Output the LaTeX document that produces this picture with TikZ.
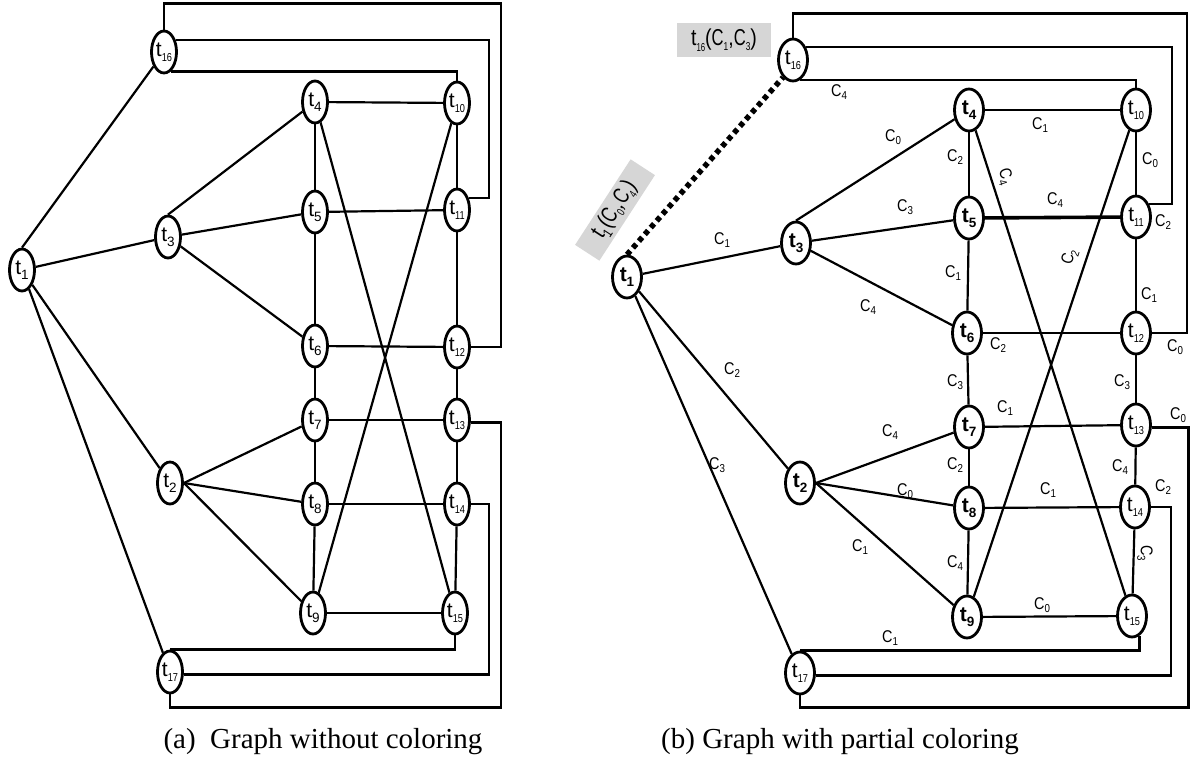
\documentclass[tikz,border=0pt]{standalone}
\usepackage{fontspec}
\usepackage{graphicx}
\setmainfont{Liberation Serif}
\newfontfamily\arialish{Liberation Sans}
\usetikzlibrary{shapes.geometric, calc}

\newcommand{\tv}[1]{t\raisebox{-0.45ex}{\fontsize{13.5}{13.5}\selectfont #1}}
\newcommand{\tw}[1]{t\raisebox{-0.45ex}{\fontsize{11.5}{11.5}\selectfont\scalebox{0.8}[1]{#1}}}
\newcommand{\cc}[1]{\scalebox{0.85}[1]{C}\raisebox{-0.4ex}{\fontsize{11.5}{11.5}\selectfont\scalebox{0.85}[1]{#1}}}

\begin{document}
\begin{tikzpicture}[x=1pt, y=-1pt,
    vert/.style={ellipse, draw, line width=2.8pt, fill=white, minimum width=25pt, minimum height=42pt, inner sep=0pt, font=\arialish\fontsize{21}{21}\selectfont},
    bvert/.style={vert, minimum width=29pt, font=\arialish\bfseries\fontsize{21}{21}\selectfont},
    wvert/.style={vert, minimum width=29pt},
    edge/.style={line width=2.2pt},
    wire/.style={line width=2.6pt},
    lbl/.style={font=\arialish\fontsize{17}{17}\selectfont, inner sep=1pt},
    tag/.style={fill=black!16, font=\arialish\fontsize{23}{23}\selectfont, inner sep=2pt},
    capt/.style={font=\fontsize{29}{32}\selectfont},
  ]
\useasboundingbox (0,0) rectangle (1197,765);

% (a) graph without coloring
\node[vert] (a1) at (22,270) {\tv{1}};
\node[vert] (a16) at (164,52) {\tw{16}};
\node[vert] (a3) at (168,237) {\tv{3}};
\node[vert] (a2) at (170,483) {\tv{2}};
\node[vert] (a17) at (170,672) {\tw{17}};
\node[vert] (a4) at (315,102) {\tv{4}};
\node[vert] (a5) at (315,212) {\tv{5}};
\node[vert] (a6) at (315,346) {\tv{6}};
\node[vert] (a7) at (315,420) {\tv{7}};
\node[vert] (a8) at (315,504) {\tv{8}};
\node[vert] (a9) at (313,613) {\tv{9}};
\node[vert] (a10) at (457,103) {\tw{10}};
\node[vert] (a11) at (457,210) {\tw{11}};
\node[vert] (a12) at (457,347) {\tw{12}};
\node[vert] (a13) at (457,420) {\tw{13}};
\node[vert] (a14) at (457,504) {\tw{14}};
\node[vert] (a15) at (455,613) {\tw{15}};

\foreach \u/\v in {1.north/16, 1/3, 1/2, 1/17, 3.north/4, 3/5, 3/6, 2.east/7, 2.east/8, 2.east/9,
    4/5, 5/6, 6/7, 7/8, 8/9, 10/11, 11/12, 12/13, 13/14, 14/15,
    4/10, 5/11, 6/12, 7/13, 8/14, 9/15, 4/15, 9/10}
  \draw[edge] (a\u) -- (a\v);

\draw[wire] (a16.north) -- ++(0,-26) -| ($(a12.east)+(30,0)$) -- (a12.east);
\draw[wire] (a16.45) -| ($(a11.45)+(20,0)$) -- (a11.45);
\draw[wire] (a16.-70) -| (a10.north);
\draw[wire] (a15.south) |- (a17.north);
\draw[wire] (a14.east) -- ++(18,0) |- (a17.-10);
\draw[wire] (a13.-10) -- ++(30,0) |- ($(a17.south)+(0,13)$) -- (a17.south);

% (b) graph with partial coloring
\node[bvert] (b1) at (627,277) {\tv{1}};
\node[wvert] (b16) at (793,60) {\tw{16}};
\node[bvert] (b3) at (796,243) {\tv{3}};
\node[bvert] (b2) at (800,483) {\tv{2}};
\node[wvert] (b17) at (800,673) {\tw{17}};
\node[bvert] (b4) at (969,110) {\tv{4}};
\node[bvert] (b5) at (969,218) {\tv{5}};
\node[bvert] (b6) at (967,333) {\tv{6}};
\node[bvert] (b7) at (969,427) {\tv{7}};
\node[bvert] (b8) at (969,508) {\tv{8}};
\node[bvert] (b9) at (967,617) {\tv{9}};
\node[wvert] (b10) at (1136,110) {\tw{10}};
\node[wvert] (b11) at (1136,217) {\tw{11}};
\node[wvert] (b12) at (1136,333) {\tw{12}};
\node[wvert] (b13) at (1136,425) {\tw{13}};
\node[wvert] (b14) at (1135,507) {\tw{14}};
\node[wvert] (b15) at (1132,616) {\tw{15}};

\node[tag, minimum width=94pt, minimum height=34pt] (tag16) at (724,40) {\scalebox{0.85}[1]{\tw{16}(\cc{1},\cc{3})}};
\node[tag, minimum width=102pt, minimum height=29pt, rotate=57] (tag1) at (615,210) {\scalebox{0.85}[1]{\tv{1}(\cc{0},\cc{4})}};
\draw[line width=5.5pt, dash pattern=on 5pt off 4pt] (b1.north) -- (b16.-120);

\draw[edge] (b1) -- (b3) node[lbl, at={(722,240)}] {\cc{1}};
\draw[edge] (b1) -- (b2) node[lbl, at={(732,370)}] {\cc{2}};
\draw[edge] (b1) -- (b17) node[lbl, at={(717,465)}] {\cc{3}};
\draw[edge] (b3.north) -- (b4) node[lbl, at={(893,137)}] {\cc{0}};
\draw[edge] (b3) -- (b5) node[lbl, at={(905,207)}] {\cc{3}};
\draw[edge] (b3) -- (b6) node[lbl, at={(868,307)}] {\cc{4}};
\draw[edge] (b2.east) -- (b7) node[lbl, at={(890,432)}] {\cc{4}};
\draw[edge] (b2.east) -- (b8) node[lbl, at={(905,491)}] {\cc{0}};
\draw[edge] (b2.east) -- (b9) node[lbl, at={(860,547)}] {\cc{1}};
\draw[edge] (b4) -- (b5) node[lbl, at={(955,157)}] {\cc{2}};
\draw[edge] (b5) -- (b6) node[lbl, at={(953,273)}] {\cc{1}};
\draw[edge] (b6) -- (b7) node[lbl, at={(955,382)}] {\cc{3}};
\draw[edge] (b7) -- (b8) node[lbl, at={(955,465)}] {\cc{2}};
\draw[edge] (b8) -- (b9) node[lbl, at={(955,563)}] {\cc{4}};
\draw[edge] (b10) -- (b11) node[lbl, at={(1150,160)}] {\cc{0}};
\draw[edge] (b11) -- (b12) node[lbl, at={(1149,295)}] {\cc{1}};
\draw[edge] (b12) -- (b13) node[lbl, at={(1122,382)}] {\cc{3}};
\draw[edge] (b13) -- (b14) node[lbl, at={(1120,467)}] {\cc{4}};
\draw[edge] (b14) -- (b15) node[lbl, rotate=-90, at={(1145,553)}] {\cc{3}};
\draw[edge] (b4) -- (b10) node[lbl, at={(1040,125)}] {\cc{1}};
\draw[edge, line width=3.6pt] (b5) -- (b11) node[lbl, at={(1055,200)}] {\cc{4}};
\draw[edge] (b6) -- (b12) node[lbl, at={(998,345)}] {\cc{2}};
\draw[edge] (b7) -- (b13) node[lbl, at={(1005,408)}] {\cc{1}};
\draw[edge] (b8) -- (b14) node[lbl, at={(1048,490)}] {\cc{1}};
\draw[edge] (b9) -- (b15) node[lbl, at={(1042,605)}] {\cc{0}};
\draw[edge] (b4) -- (b15) node[lbl, rotate=-72, at={(1005,177)}] {\cc{4}};
\draw[edge] (b9) -- (b10) node[lbl, rotate=72, at={(1070,257)}] {\cc{2}};

\draw[wire] (b16.north) -- ++(0,-24) -| ($(b12.east)+(35,0)$) -- (b12.east);
\draw[wire] (b16.45) -| ($(b11.45)+(23,0)$) -- (b11.45);
\draw[wire] (b16.-70) -| (b10.north);
\draw[wire] (b15.-70) |- (b17.north);
\draw[wire] (b14.east) -- ++(20,0) |- (b17.-10);
\draw[wire] (b13.-10) -- ++(37,0) |- ($(b17.south)+(0,12)$) -- (b17.south);

\node[lbl] (w10) at (839,92) {\cc{4}};
\node[lbl] (w11) at (1163,222) {\cc{2}};
\node[lbl] (w12) at (1175,347) {\cc{0}};
\node[lbl] (w13) at (1178,415) {\cc{0}};
\node[lbl] (w14) at (1163,487) {\cc{2}};
\node[lbl] (w15) at (890,638) {\cc{1}};

\node[capt] (capa) at (323,742) {(a)\ \ Graph without coloring};
\node[capt] (capb) at (840,742) {(b) Graph with partial coloring};
\end{tikzpicture}
\end{document}
